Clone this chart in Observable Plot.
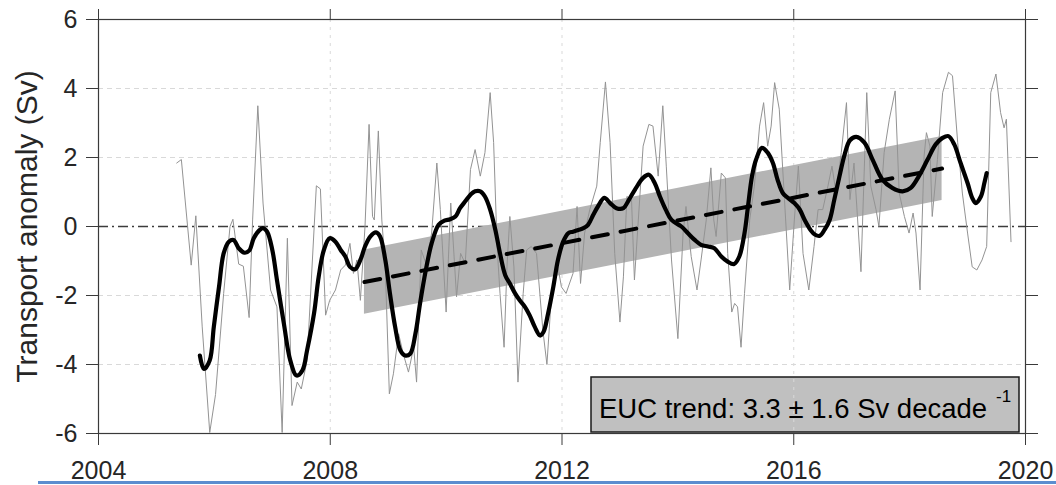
<!DOCTYPE html>
<html>
<head>
<meta charset="utf-8">
<script src="https://cdn.jsdelivr.net/npm/d3@7"></script>
<script src="https://cdn.jsdelivr.net/npm/@observablehq/plot@0.6"></script>
<style>
  html, body { margin: 0; padding: 0; background: #fff; }
  #chart { position: relative; width: 1056px; height: 485px; overflow: hidden; }
  #chart svg { display: block; }
  #rule { position: absolute; left: 38px; right: 0; top: 481px; height: 3px; background: #5b8dcf; }
</style>
</head>
<body>
<div id="chart"><div id="rule"></div></div>
<script>
// EUC transport anomaly (Sv): raw series (thin grey)
const rawYear = [
  2005.35, 2005.43, 2005.60, 2005.68, 2005.79, 2005.92, 2006.02, 2006.16, 2006.27, 2006.32,
  2006.42, 2006.50, 2006.60, 2006.66, 2006.75, 2006.84, 2006.97, 2007.08, 2007.17, 2007.26,
  2007.34, 2007.43, 2007.50, 2007.60, 2007.76, 2007.83, 2007.92, 2007.99, 2008.09, 2008.18,
  2008.26, 2008.34, 2008.40, 2008.46, 2008.52, 2008.60, 2008.67, 2008.73, 2008.76, 2008.83,
  2008.89, 2008.95, 2009.02, 2009.09, 2009.18, 2009.26, 2009.35, 2009.44, 2009.49, 2009.57,
  2009.65, 2009.75, 2009.84, 2009.90, 2010.00, 2010.08, 2010.12, 2010.18, 2010.25, 2010.33,
  2010.42, 2010.50, 2010.59, 2010.67, 2010.76, 2010.82, 2010.88, 2010.93, 2011.00, 2011.05,
  2011.10, 2011.17, 2011.24, 2011.33, 2011.39, 2011.47, 2011.56, 2011.67, 2011.74, 2011.82,
  2011.91, 2011.99, 2012.07, 2012.19, 2012.26, 2012.32, 2012.39, 2012.48, 2012.60, 2012.66,
  2012.75, 2012.83, 2012.91, 2013.00, 2013.06, 2013.12, 2013.20, 2013.25, 2013.31, 2013.40,
  2013.50, 2013.57, 2013.66, 2013.74, 2013.80, 2013.89, 2014.00, 2014.09, 2014.14, 2014.23,
  2014.33, 2014.40, 2014.49, 2014.57, 2014.62, 2014.66, 2014.75, 2014.82, 2014.86, 2014.93,
  2014.98, 2015.03, 2015.09, 2015.15, 2015.24, 2015.32, 2015.41, 2015.48, 2015.55, 2015.61,
  2015.67, 2015.75, 2015.84, 2015.93, 2016.01, 2016.08, 2016.16, 2016.26, 2016.35, 2016.42,
  2016.50, 2016.59, 2016.66, 2016.73, 2016.82, 2016.91, 2016.97, 2017.04, 2017.16, 2017.26,
  2017.33, 2017.42, 2017.47, 2017.56, 2017.65, 2017.75, 2017.82, 2017.91, 2017.99, 2018.06,
  2018.11, 2018.18, 2018.25, 2018.29, 2018.35, 2018.39, 2018.48, 2018.57, 2018.67, 2018.74,
  2018.83, 2018.91, 2019.00, 2019.08, 2019.16, 2019.25, 2019.33, 2019.40, 2019.49, 2019.57,
  2019.63, 2019.67, 2019.75
];
const rawValue = [
  1.84, 1.94, -1.12, 0.31, -2.91, -5.97, -4.87, -1.94, 0.00, 0.21,
  -1.09, -1.15, -2.64, 0.19, 3.50, 0.68, -1.84, -2.33, -5.97, -0.34,
  -5.19, -4.51, -4.71, -3.88, 1.18, 1.09, -2.57, -2.14, -1.84, -1.26,
  -1.12, -0.49, -1.36, -0.97, -2.14, 0.00, 2.96, 0.29, 0.19, 2.77,
  0.19, -1.17, -4.85, -4.27, -3.11, -3.69, -4.22, -3.50, -4.51, -0.68,
  -1.07, -0.19, 1.84, 0.49, -2.48, 0.68, -0.39, -2.04, -0.78, -1.07,
  1.65, 2.23, 1.46, 2.14, 3.88, 2.43, -0.58, -1.94, -3.50, -1.17,
  0.29, -1.17, -4.51, -1.94, -0.68, -0.58, -0.78, -3.01, -4.00, -1.94,
  -0.97, -1.75, -1.94, -1.36, 0.58, -1.65, -0.19, 0.49, 1.17, 2.43,
  4.19, 2.43, -0.78, -2.77, -1.46, 0.87, 0.78, -1.55, 0.00, 2.33,
  2.96, 2.91, 1.46, 3.50, 1.75, -0.97, -3.25, -0.19, 0.58, -0.87,
  -1.84, -0.97, 0.19, 1.70, 0.19, -0.29, 1.55, 1.41, -0.78, -2.48,
  -2.23, -2.33, -3.50, -1.94, 0.19, 1.17, 2.91, 3.59, 2.33, 2.91,
  4.17, 3.40, 0.78, -1.84, 0.19, 1.75, -0.78, -1.84, -0.58, 0.49,
  0.49, 1.17, 1.75, 0.97, 2.14, 3.59, 0.78, 1.84, -1.31, 3.88,
  1.17, 0.49, 0.00, 2.14, 3.11, 3.93, 0.97, 0.29, -0.19, 0.39,
  -0.19, -1.84, 2.04, 2.72, 2.33, 0.29, 1.94, 3.88, 4.47, 4.37,
  2.43, 0.97, -0.19, -1.17, -1.26, -0.97, -0.58, 3.88, 4.42, 3.30,
  2.86, 3.11, -0.44
];

// Low-pass filtered series (thick black)
const smoothYear = [
  2005.75, 2005.82, 2005.92, 2005.99, 2006.08, 2006.16, 2006.25, 2006.33, 2006.42, 2006.52,
  2006.60, 2006.68, 2006.77, 2006.84, 2006.91, 2007.00, 2007.08, 2007.20, 2007.31, 2007.42,
  2007.52, 2007.60, 2007.72, 2007.80, 2007.89, 2007.99, 2008.09, 2008.18, 2008.26, 2008.34,
  2008.43, 2008.52, 2008.60, 2008.69, 2008.79, 2008.86, 2008.95, 2009.03, 2009.12, 2009.21,
  2009.29, 2009.38, 2009.47, 2009.55, 2009.65, 2009.75, 2009.87, 2009.97, 2010.07, 2010.16,
  2010.24, 2010.33, 2010.42, 2010.50, 2010.59, 2010.67, 2010.76, 2010.85, 2010.93, 2011.02,
  2011.10, 2011.19, 2011.27, 2011.36, 2011.44, 2011.53, 2011.62, 2011.68, 2011.76, 2011.85,
  2011.93, 2012.02, 2012.11, 2012.19, 2012.28, 2012.37, 2012.45, 2012.54, 2012.62, 2012.73,
  2012.83, 2012.94, 2013.06, 2013.14, 2013.26, 2013.40, 2013.50, 2013.60, 2013.69, 2013.79,
  2013.89, 2014.06, 2014.17, 2014.29, 2014.40, 2014.52, 2014.63, 2014.75, 2014.86, 2014.97,
  2015.06, 2015.15, 2015.21, 2015.28, 2015.35, 2015.45, 2015.55, 2015.64, 2015.72, 2015.81,
  2015.90, 2016.01, 2016.10, 2016.20, 2016.29, 2016.37, 2016.45, 2016.53, 2016.62, 2016.70,
  2016.79, 2016.88, 2016.97, 2017.08, 2017.22, 2017.36, 2017.53, 2017.70, 2017.88, 2018.02,
  2018.16, 2018.31, 2018.45, 2018.57, 2018.67, 2018.77, 2018.88, 2019.00, 2019.08, 2019.14,
  2019.23, 2019.29, 2019.33
];
const smoothValue = [
  -3.74, -4.13, -3.88, -2.91, -1.75, -0.78, -0.44, -0.39, -0.63, -0.76,
  -0.70, -0.34, -0.12, -0.05, -0.15, -0.68, -1.55, -2.82, -3.88, -4.32,
  -4.17, -3.59, -2.52, -1.46, -0.68, -0.34, -0.44, -0.68, -0.87, -1.17,
  -1.24, -0.97, -0.58, -0.29, -0.17, -0.29, -0.97, -1.94, -2.91, -3.59,
  -3.74, -3.69, -3.11, -2.23, -1.26, -0.49, 0.05, 0.17, 0.21, 0.29,
  0.53, 0.73, 0.92, 1.02, 1.02, 0.87, 0.49, -0.10, -0.78, -1.41,
  -1.65, -1.94, -2.14, -2.33, -2.57, -2.91, -3.16, -3.06, -2.52, -1.75,
  -0.97, -0.44, -0.19, -0.15, -0.10, -0.05, 0.05, 0.34, 0.58, 0.83,
  0.68, 0.53, 0.53, 0.73, 1.07, 1.41, 1.50, 1.26, 0.87, 0.49,
  0.19, 0.00, -0.19, -0.39, -0.53, -0.58, -0.63, -0.87, -1.02, -1.09,
  -0.87, -0.19, 0.58, 1.46, 1.94, 2.28, 2.14, 1.84, 1.36, 0.97,
  0.83, 0.68, 0.50, 0.15, -0.10, -0.24, -0.27, -0.10, 0.19, 0.78,
  1.46, 2.10, 2.50, 2.60, 2.43, 1.94, 1.36, 1.12, 1.02, 1.12,
  1.46, 1.94, 2.38, 2.57, 2.62, 2.38, 1.84, 1.26, 0.83, 0.68,
  0.87, 1.26, 1.55
];

// Linear trend and its shaded uncertainty band
const trendYears = [2008.59, 2018.56];
const trendStart = -1.61;      // Sv at the first trend year
const trendRate = 3.3;         // Sv per decade
const trendError = 1.6;        // Sv per decade
const bandHalfWidth = 0.93;    // Sv

// Axis ticks and grid lines
const xTicks = [2004, 2008, 2012, 2016, 2020];
const yTicks = [-6, -4, -2, 0, 2, 4, 6];
const xGrid = [2008, 2012, 2016];
const yGrid = [-4, -2, 2, 4];

const raw = rawYear.map((t, i) => ({t, v: rawValue[i]}));
const smooth = smoothYear.map((t, i) => ({t, v: smoothValue[i]}));
const trend = trendYears.map(t => ({t, v: trendStart + trendRate / 10 * (t - trendYears[0])}));
const band = trend.map(d => ({t: d.t, lo: d.v - bandHalfWidth, hi: d.v + bandHalfWidth}));

const axisColor = "#3a3a3a";
const textColor = "#262626";

// Grey annotation box in the lower-right corner of the frame
function trendBox(index, scales, values, dimensions) {
  const {width, height, marginRight, marginBottom} = dimensions;
  const right = width - marginRight - 6;
  const bottom = height - marginBottom - 1;
  const boxW = 428, boxH = 55;
  const g = d3.create("svg:g");
  g.append("rect")
    .attr("x", right - boxW).attr("y", bottom - boxH)
    .attr("width", boxW).attr("height", boxH)
    .attr("fill", "#c0c0c0").attr("stroke", "#1a1a1a").attr("stroke-width", 1.5);
  const text = g.append("text")
    .attr("x", right - boxW + 8).attr("y", bottom - 14)
    .attr("text-anchor", "start")
    .attr("font-size", 27.5).attr("fill", "#000");
  text.append("tspan").text(`EUC trend: ${trendRate.toFixed(1)} \u00b1 ${trendError.toFixed(1)} Sv decade`);
  text.append("tspan").attr("dx", 9).attr("dy", -16).attr("font-size", 17).text("-1");
  return g.node();
}

const chart = Plot.plot({
  width: 1056,
  height: 485,
  marginTop: 19,
  marginRight: 31,
  marginBottom: 52,
  marginLeft: 98,
  x: {domain: [2004, 2020], label: null},
  y: {domain: [-6, 6], label: null},
  style: {fontFamily: "'Liberation Sans', Arial, Helvetica, sans-serif", background: "#fff", color: textColor, overflow: "visible"},
  marks: [
    trendBox,
    Plot.gridY({ticks: yGrid, stroke: "#d9d9d9", strokeOpacity: 1, strokeDasharray: "5,4"}),
    Plot.gridX({ticks: xGrid, stroke: "#d9d9d9", strokeOpacity: 1, strokeDasharray: "3,5"}),
    Plot.ruleY([0], {stroke: "#3c3c3c", strokeWidth: 1.3, strokeDasharray: "10,4,2,4"}),
    Plot.areaY(band, {x: "t", y1: "lo", y2: "hi", fill: "#b4b4b4"}),
    Plot.line(raw, {x: "t", y: "v", stroke: "#939393", strokeWidth: 1}),
    Plot.line(smooth, {x: "t", y: "v", stroke: "#000", strokeWidth: 4.2, curve: "catmull-rom"}),
    Plot.line(trend, {x: "t", y: "v", stroke: "#000", strokeWidth: 4, strokeDasharray: "16,13"}),
    Plot.frame({stroke: axisColor, strokeWidth: 1.2}),
    Plot.axisY({ticks: yTicks, anchor: "left", tickSize: 12, tickPadding: 9, fontSize: 25,
      stroke: axisColor, fill: textColor, label: null, tickFormat: d => String(d)}),
    Plot.axisY({ticks: yTicks, anchor: "right", tickSize: 12, stroke: axisColor, label: null, tickFormat: () => ""}),
    Plot.axisX({ticks: xTicks, anchor: "bottom", tickSize: 12, tickPadding: 16, fontSize: 25,
      stroke: axisColor, fill: textColor, label: null, tickFormat: d => String(d)}),
    Plot.axisX({ticks: xTicks, anchor: "top", tickSize: 11, stroke: axisColor, label: null, tickFormat: () => ""}),
    Plot.text(["Transport anomaly (Sv)"], {frameAnchor: "left", rotate: -90, dx: -71, fontSize: 30,
      fill: textColor, textAnchor: "middle", lineAnchor: "middle"})
  ]
});

document.getElementById("chart").prepend(chart);
</script>
</body>
</html>
